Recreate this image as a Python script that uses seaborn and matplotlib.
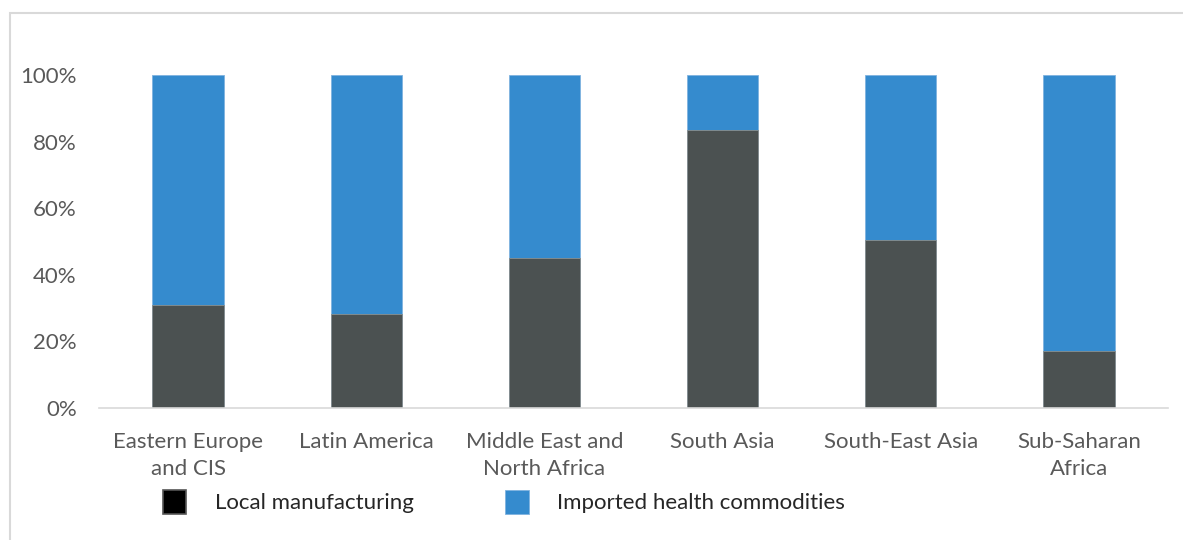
import pandas as pd
import seaborn as sns
import matplotlib.pyplot as plt
from matplotlib.patches import Rectangle, Patch
from matplotlib.ticker import PercentFormatter

regions = ["Eastern Europe\nand CIS", "Latin America", "Middle East and\nNorth Africa",
           "South Asia", "South-East Asia", "Sub-Saharan\nAfrica"]
local_share = [31, 28.3, 45, 83.5, 50.5, 17.1]
imported_share = [100 - v for v in local_share]

dark = "#4b5151"
blue = "#358bce"
grey_text = "#595959"

df = pd.DataFrame({"region": regions, "local": local_share,
                   "total": [l + i for l, i in zip(local_share, imported_share)]})

sns.set_theme(style="white")
plt.rcParams['font.family'] = ['Lato', 'DejaVu Sans']

fig = plt.figure(figsize=(11.83, 5.40), dpi=100)
ax = fig.add_axes([99 / 1183, 1 - 408 / 540, (1168 - 99) / 1183, (408 - 75) / 540])

sns.barplot(data=df, x="region", y="total", color=blue, width=0.4,
            edgecolor="#7fb3e0", linewidth=0.6, ax=ax, saturation=1)
sns.barplot(data=df, x="region", y="local", color=dark, width=0.4,
            edgecolor="#8a9090", linewidth=0.6, ax=ax, saturation=1)

ax.set_ylim(0, 100)
ax.set_xlim(-0.5, 5.5)
ax.set_yticks([0, 20, 40, 60, 80, 100])
ax.yaxis.set_major_formatter(PercentFormatter(decimals=0))
ax.set_xlabel("")
ax.set_ylabel("")
for s in ["top", "right", "left"]:
    ax.spines[s].set_visible(False)
ax.spines["bottom"].set_color("#d9d9d9")
ax.spines["bottom"].set_linewidth(1.2)
ax.tick_params(axis="both", length=0, labelsize=16, labelcolor=grey_text)
ax.tick_params(axis="y", pad=16)
ax.tick_params(axis="x", pad=17)
for lbl in ax.get_xticklabels():
    lbl.set_linespacing(1.45)

handles = [Patch(facecolor="black", edgecolor="#555555", linewidth=1.2),
           Patch(facecolor=blue, edgecolor="#7fb3e0", linewidth=0.6)]
fig.legend(handles, ["Local manufacturing", "Imported health commodities"],
           loc="center left", bbox_to_anchor=(163 / 1183, 1 - 502 / 540), ncol=2,
           frameon=False, handlelength=1.05, handleheight=1.25, handletextpad=1.3,
           columnspacing=4.1, fontsize=16, labelcolor="#262626",
           borderpad=0, borderaxespad=0)

fig.patches.append(Rectangle((10 / 1183, -0.1), 1.2, 1.1 - 13 / 540, transform=fig.transFigure,
                             fill=False, edgecolor="#d9d9d9", linewidth=1.5, zorder=0))

fig.savefig("out.png", dpi=100)
